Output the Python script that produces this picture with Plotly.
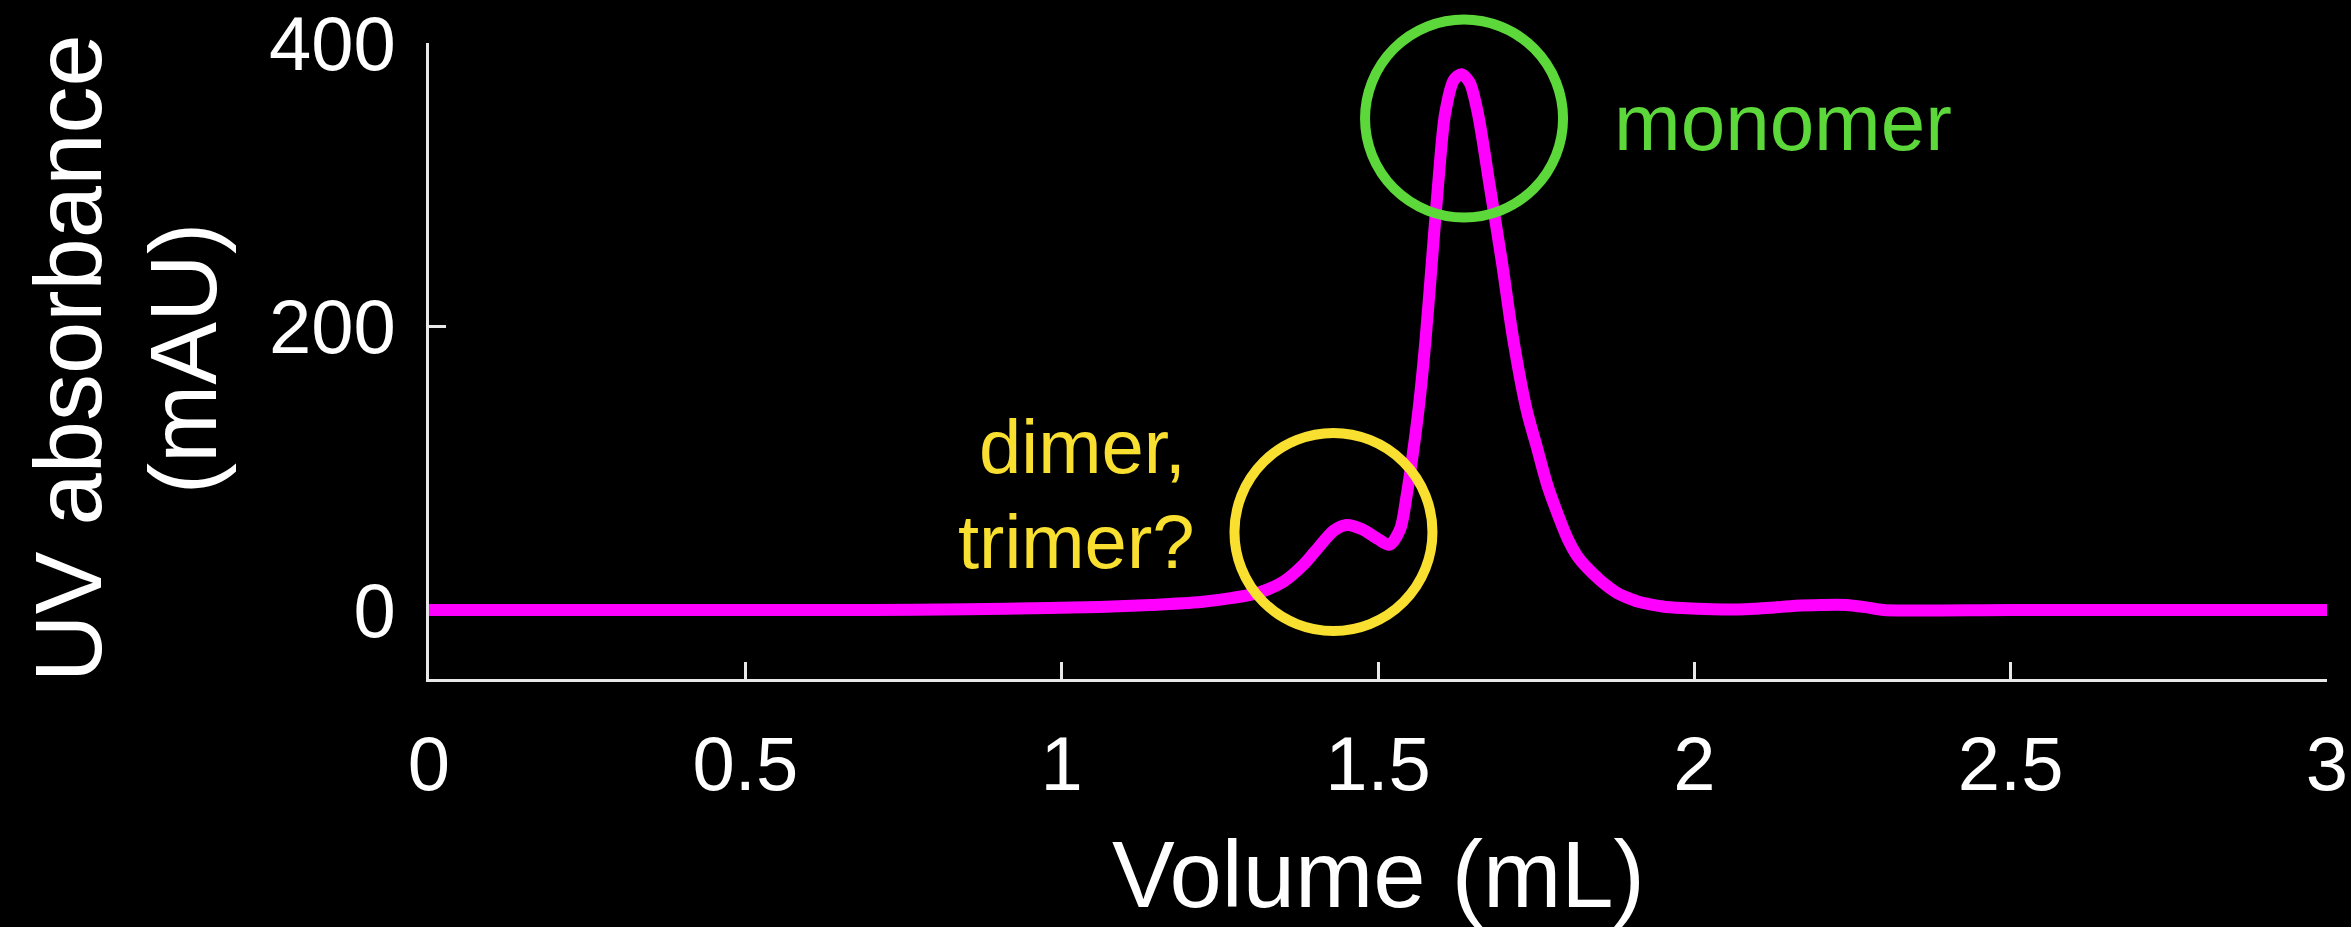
import plotly.graph_objects as go

# Chromatogram trace (volume in mL, absorbance in mAU)
volume_ml = [0.00, 0.25, 0.50, 0.70, 0.85, 0.98, 1.06, 1.14, 1.22, 1.27, 1.31, 1.35,
             1.38, 1.40, 1.43, 1.45, 1.475, 1.50, 1.518, 1.535, 1.545, 1.555, 1.565,
             1.575, 1.585, 1.595, 1.606, 1.62, 1.632, 1.645, 1.658, 1.677, 1.696,
             1.713, 1.735, 1.751, 1.767, 1.788, 1.80, 1.815, 1.83, 1.851, 1.865, 1.88,
             1.895, 1.91, 1.93, 1.95, 1.98, 2.03, 2.08, 2.12, 2.16, 2.20, 2.24, 2.27,
             2.30, 2.50, 2.75, 3.00]
absorbance_mau = [0, 0, 0, 0, 0.5, 1.4, 2.1, 3.5, 5.6, 8.5, 12, 19.8,
                  31, 41, 56, 60, 57, 50, 46, 57, 80, 110, 145,
                  190, 245, 300, 350, 374, 378, 372, 350, 298, 245,
                  193, 141, 115, 89, 63, 50, 38, 30, 21, 16, 11.5,
                  8.5, 6, 4, 2.5, 1.4, 0.5, 0.5, 1.5, 3, 3.5, 3.5, 2,
                  0, 0, 0, 0]

x_ticks = [0, 0.5, 1, 1.5, 2, 2.5, 3]
x_tick_labels = ["0", "0.5", "1", "1.5", "2", "2.5", "3"]
y_ticks = [0, 200, 400]
y_tick_labels = ["0", "200", "400"]

X_RANGE = [0, 3]
Y_RANGE = [-48.7, 400]

# Annotation callouts (data coordinates)
monomer_center = (1.636, 346.7)
dimer_center = (1.4296, 55.0)

GREEN = "#5DD83A"
YELLOW = "#F9E030"
MAGENTA = "#FF00FF"
AXIS = "#E8E8E8"
FONT = "Liberation Sans, Arial, Helvetica, sans-serif"

W, H = 2351, 927
L, R, T, B = 429, 24, 43, 248
plot_w = W - L - R
plot_h = H - T - B


def px_to_paper(px=None, py=None):
    """Convert page-pixel positions to paper coordinates (for text placement)."""
    out = []
    if px is not None:
        out.append((px - L) / plot_w)
    if py is not None:
        out.append((T + plot_h - py) / plot_h)
    return out[0] if len(out) == 1 else tuple(out)


def data_to_paper(x, y):
    return ((x - X_RANGE[0]) / (X_RANGE[1] - X_RANGE[0]),
            (y - Y_RANGE[0]) / (Y_RANGE[1] - Y_RANGE[0]))


fig = go.Figure()
fig.add_trace(go.Scatter(
    x=volume_ml, y=absorbance_mau, mode="lines",
    line=dict(color=MAGENTA, width=12, shape="spline", smoothing=0.8),
    hoverinfo="skip", showlegend=False,
))

fig.update_layout(
    width=W, height=H,
    margin=dict(l=L, r=R, t=T, b=B, pad=0, autoexpand=False),
    paper_bgcolor="black", plot_bgcolor="black",
    font=dict(family=FONT, color="white"),
    showlegend=False,
)

common_axis = dict(
    showgrid=False, zeroline=False, showline=True, linecolor=AXIS, linewidth=3,
    ticks="inside", ticklen=17, tickwidth=3, tickcolor=AXIS,
    tickfont=dict(size=76, color="white", family=FONT),
    automargin=False, layer="below traces",
)
fig.update_xaxes(range=X_RANGE, tickvals=x_ticks, ticktext=x_tick_labels,
                 ticklabelstandoff=17, **common_axis)
fig.update_yaxes(range=Y_RANGE, tickvals=y_ticks, ticktext=y_tick_labels,
                 ticklabelstandoff=15, **common_axis)

# Axis titles as annotations (positions given as page pixels of the box middle)
fig.add_annotation(
    text="Volume (mL)", xref="paper", yref="paper",
    x=0.5, y=px_to_paper(py=874),
    xanchor="center", yanchor="middle", showarrow=False,
    font=dict(size=94, color="white", family=FONT),
)
for txt, mid_px in [("UV absorbance", 101 - 0.3465 * 94), ("(mAU)", 216 - 0.3465 * 94)]:
    fig.add_annotation(
        text=txt, xref="paper", yref="paper",
        x=px_to_paper(px=mid_px), y=0.505, textangle=-90,
        xanchor="center", yanchor="middle", showarrow=False,
        font=dict(size=94, color="white", family=FONT),
    )

# Circles highlighting the peaks (paper refs so they are not clipped)
for (cx, cy), col in [(monomer_center, GREEN), (dimer_center, YELLOW)]:
    px_, py_ = data_to_paper(cx, cy)
    fig.add_shape(
        type="circle", xref="paper", yref="paper",
        xsizemode="pixel", ysizemode="pixel",
        xanchor=px_, yanchor=py_,
        x0=-99, x1=99, y0=-99, y1=99,
        line=dict(color=col, width=10),
    )

fig.add_annotation(
    text="monomer", xref="paper", yref="paper",
    x=px_to_paper(px=1612), y=px_to_paper(py=150 - 0.3465 * 80),
    xanchor="left", yanchor="middle", showarrow=False,
    font=dict(size=80, color=GREEN, family=FONT),
)
for txt, cx_px, base_px in [("dimer,", 1082, 473), ("trimer?", 1076, 568)]:
    fig.add_annotation(
        text=txt, xref="paper", yref="paper",
        x=px_to_paper(px=cx_px), y=px_to_paper(py=base_px - 0.3465 * 76),
        xanchor="center", yanchor="middle", showarrow=False,
        font=dict(size=76, color=YELLOW, family=FONT),
    )

fig.write_html("out.html")
